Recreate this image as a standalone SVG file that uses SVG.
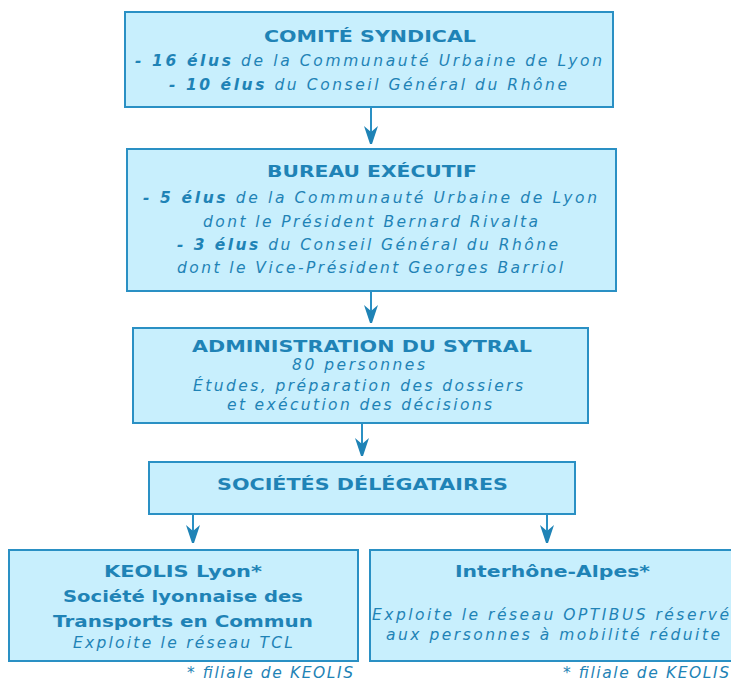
<svg xmlns="http://www.w3.org/2000/svg" width="731" height="681" viewBox="0 0 731 681">
<style>
.box{fill:#c8effd;stroke:#2a90c4;stroke-width:2}
text{font-family:"DejaVu Sans","Verdana",sans-serif;fill:#1f83b6;text-anchor:start}
.t{font-size:15px;font-weight:bold}
.i{font-size:15.5px;font-style:italic}
.b{font-size:15.5px;font-weight:bold}
.bi{font-weight:bold}
.con{stroke:#2a90c4;stroke-width:2;fill:none}
</style>
<defs>
<marker id="ah" markerUnits="userSpaceOnUse" markerWidth="20" markerHeight="16" viewBox="-18 -8 20 16" refX="0" refY="0" orient="auto">
<path d="M-18,-7 L-12,0 L-18,7 L0,1 L0,-1 Z" fill="#1f83b6"/>
</marker>
</defs>
<rect x="0" y="0" width="731" height="681" fill="#ffffff"/>
<g id="connectors">
<path class="con" d="M371,107 V144" marker-end="url(#ah)"/>
<path class="con" d="M371,291 V323" marker-end="url(#ah)"/>
<path class="con" d="M362,423 V456" marker-end="url(#ah)"/>
<path class="con" d="M193,514 V543" marker-end="url(#ah)"/>
<path class="con" d="M547,514 V543" marker-end="url(#ah)"/>
</g>
<g id="comite">
<rect class="box" x="125" y="12" width="488" height="95"/>
<text class="t" x="264" y="42" textLength="212" lengthAdjust="spacingAndGlyphs">COMITÉ SYNDICAL</text>
<text class="i" x="135" y="66" textLength="467" lengthAdjust="spacing"><tspan class="bi">- 16 élus</tspan> de la Communauté Urbaine de Lyon</text>
<text class="i" x="169" y="90" textLength="398" lengthAdjust="spacing"><tspan class="bi">- 10 élus</tspan> du Conseil Général du Rhône</text>
</g>
<g id="bureau">
<rect class="box" x="127" y="149" width="489" height="142"/>
<text class="t" x="267" y="177" textLength="210" lengthAdjust="spacingAndGlyphs">BUREAU EXÉCUTIF</text>
<text class="i" x="143" y="203" textLength="454" lengthAdjust="spacing"><tspan class="bi">- 5 élus</tspan> de la Communauté Urbaine de Lyon</text>
<text class="i" x="203" y="227" textLength="335" lengthAdjust="spacing">dont le Président Bernard Rivalta</text>
<text class="i" x="177" y="250" textLength="381" lengthAdjust="spacing"><tspan class="bi">- 3 élus</tspan> du Conseil Général du Rhône</text>
<text class="i" x="177" y="273" textLength="386" lengthAdjust="spacing">dont le Vice-Président Georges Barriol</text>
</g>
<g id="administration">
<rect class="box" x="133" y="328" width="455" height="95"/>
<text class="t" x="192" y="352" textLength="340" lengthAdjust="spacingAndGlyphs">ADMINISTRATION DU SYTRAL</text>
<text class="i" x="292" y="370" textLength="133" lengthAdjust="spacing">80 personnes</text>
<text class="i" x="193" y="391" textLength="330" lengthAdjust="spacing">Études, préparation des dossiers</text>
<text class="i" x="227" y="410" textLength="265" lengthAdjust="spacing">et exécution des décisions</text>
</g>
<g id="societes">
<rect class="box" x="149" y="462" width="426" height="52"/>
<text class="t" x="217" y="490" textLength="291" lengthAdjust="spacingAndGlyphs">SOCIÉTÉS DÉLÉGATAIRES</text>
</g>
<g id="keolis">
<rect class="box" x="9" y="550" width="349" height="111"/>
<text class="b" x="104" y="577" textLength="158" lengthAdjust="spacingAndGlyphs">KEOLIS Lyon*</text>
<text class="b" x="63" y="602" textLength="240" lengthAdjust="spacingAndGlyphs">Société lyonnaise des</text>
<text class="b" x="53" y="627" textLength="260" lengthAdjust="spacingAndGlyphs">Transports en Commun</text>
<text class="i" x="73" y="648" textLength="220" lengthAdjust="spacing">Exploite le réseau TCL</text>
<text class="i" x="187" y="678" textLength="166" lengthAdjust="spacing">* filiale de KEOLIS</text>
</g>
<g id="interhone">
<rect class="box" x="370" y="550" width="380" height="111"/>
<text class="b" x="455" y="577" textLength="195" lengthAdjust="spacingAndGlyphs">Interhône-Alpes*</text>
<text class="i" x="372" y="620" textLength="357" lengthAdjust="spacing">Exploite le réseau OPTIBUS réservé</text>
<text class="i" x="386" y="640" textLength="334" lengthAdjust="spacing">aux personnes à mobilité réduite</text>
<text class="i" x="563" y="678" textLength="166" lengthAdjust="spacing">* filiale de KEOLIS</text>
</g>
</svg>
